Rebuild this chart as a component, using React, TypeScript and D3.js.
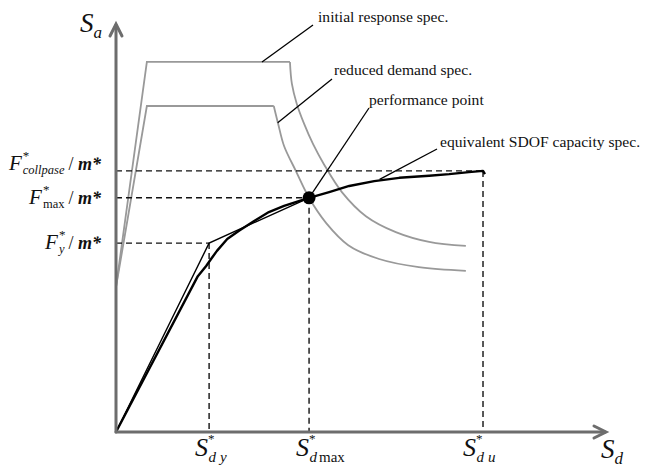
import React from "react";
import * as d3 from "d3";

// ---- data (abstract Sd / Sa units) ----
const capacitySd = [0, 16.7, 18.4, 19.4, 20.6, 22.7, 25.1, 28.2, 31.2, 34.3, 37.3, 39.4, 43.5, 47.6, 52.7, 57.8, 63.9, 68.0, 72.0, 74.9, 75.3];
const capacitySa = [0, 38.2, 40.7, 42.4, 44.4, 47.3, 49.3, 51.7, 53.9, 55.4, 56.6, 57.4, 58.8, 60.3, 61.5, 62.3, 62.8, 63.2, 63.7, 64.0, 63.2];

const bilinearSd = [0, 19.0, 39.4];
const bilinearSa = [0, 46.3, 57.4];

const initialSd = [0, 6.3, 35.5, 35.9, 36.9, 38.4, 40.2, 42.4, 46.1, 51.0, 57.1, 63.9, 71.4];
const initialSa = [35.5, 90.7, 90.7, 85.3, 80.4, 75.5, 70.6, 65.7, 58.8, 52.9, 49.0, 46.6, 45.6];

const reducedSd = [0, 6.3, 32.2, 33.1, 34.3, 36.7, 39.4, 42.9, 47.4, 53.7, 61.8, 71.4];
const reducedSa = [35.5, 79.9, 79.9, 75.5, 70.1, 64.0, 57.4, 51.2, 45.8, 42.4, 40.4, 39.5];

const dispLevels = [19.0, 39.4, 74.9]; // Sd*_y, Sd*_max, Sd*_u
const forceLevels = [46.3, 57.4, 64.0]; // Fy, Fmax, Fcollapse (per m*)
const perfSd = 39.4;
const perfSa = 57.4;

const annotationLabels = [
  "initial response spec.",
  "reduced demand spec.",
  "performance point",
  "equivalent SDOF capacity spec.",
];
const annotationTargetSd = [29.8, 33.0, 39.4, 53.8];
const annotationTargetSa = [90.7, 75.8, 57.4, 61.9];

// ---- layout ----
const W = 657;
const H = 470;
const x = d3.scaleLinear().domain([0, 100]).range([116, 606]);
const y = d3.scaleLinear().domain([0, 100]).range([432, 24]);

const serif = "'Liberation Serif', 'Times New Roman', serif";
const axisColor = "#6d6d6d";
const specColor = "#999999";

const annLayout = [
  { tx: 318, ty: 22, lx: 313, ly: 25 },
  { tx: 334, ty: 75, lx: 332, ly: 79 },
  { tx: 369, ty: 105, lx: 369, ly: 108 },
  { tx: 440, ty: 147, lx: 437, ly: 149 },
];

function pts(xs: number[], ys: number[]): [number, number][] {
  return xs.map((v, i) => [x(v), y(ys[i])] as [number, number]);
}

export default function App() {
  const linear = d3.line<[number, number]>().curve(d3.curveLinear);
  const smooth = d3.line<[number, number]>().curve(d3.curveCatmullRom.alpha(0.5));

  const initP = pts(initialSd, initialSa);
  const redP = pts(reducedSd, reducedSa);
  const capP = pts(capacitySd, capacitySa);
  const biP = pts(bilinearSd, bilinearSa);

  const ox = x(0);
  const oy = y(0);

  const fLabels = [
    { sub: "y", italicSub: true, dyBase: 6 },
    { sub: "max", italicSub: false, dyBase: 6 },
    { sub: "collpase", italicSub: true, dyBase: -1 },
  ];

  const sLabels = [
    { sub: "y", off: -14 },
    { sub: "max", off: -13 },
    { sub: "u", off: -20 },
  ];

  return (
    <svg width={W} height={H} style={{ position: "absolute", left: 0, top: 0, background: "#fff" }}>
      {/* demand spectra */}
      {[initP, redP].map((p, i) => (
        <g key={"spec" + i} fill="none" stroke={specColor} strokeWidth={1.8}>
          <path d={linear(p.slice(0, 3)) || ""} />
          <path d={smooth(p.slice(2)) || ""} />
        </g>
      ))}

      {/* dashed guides */}
      <g stroke="#111" strokeWidth={1.4} strokeDasharray="6,4" fill="none">
        {forceLevels.map((f, i) => (
          <line key={"h" + i} x1={ox} x2={x(dispLevels[i])} y1={y(f)} y2={y(f)} />
        ))}
        {dispLevels.map((d, i) => (
          <line key={"v" + i} x1={x(d)} x2={x(d)} y1={y(forceLevels[i])} y2={oy} />
        ))}
      </g>

      {/* capacity curves */}
      <path d={linear(biP) || ""} fill="none" stroke="#000" strokeWidth={1.4} />
      <path d={linear(capP) || ""} fill="none" stroke="#000" strokeWidth={2.4} strokeLinejoin="round" />

      {/* performance point */}
      <circle cx={x(perfSd)} cy={y(perfSa)} r={6.5} fill="#000" />

      {/* annotation leaders */}
      {annotationLabels.map((t, i) => (
        <g key={"ann" + i}>
          <line
            x1={annLayout[i].lx}
            y1={annLayout[i].ly}
            x2={x(annotationTargetSd[i])}
            y2={y(annotationTargetSa[i])}
            stroke="#000"
            strokeWidth={1.3}
          />
          <text x={annLayout[i].tx} y={annLayout[i].ty} fontFamily={serif} fontSize={15.6} fill="#111">
            {t}
          </text>
        </g>
      ))}

      {/* axes */}
      <g stroke={axisColor} strokeWidth={3} fill="none" strokeLinecap="round">
        <line x1={ox} y1={oy} x2={ox} y2={y(100) + 1} />
        <polyline points={`${ox - 6},${y(100) + 12} ${ox},${y(100)} ${ox + 6},${y(100) + 12}`} strokeLinejoin="miter" />
        <line x1={ox} y1={oy} x2={x(100) - 1} y2={oy} />
        <polyline points={`${x(100) - 12},${oy - 6} ${x(100)},${oy} ${x(100) - 12},${oy + 6}`} />
      </g>

      {/* axis titles */}
      <text x={80} y={32} fontFamily={serif} fill="#111">
        <tspan fontStyle="italic" fontSize={27}>S</tspan>
        <tspan fontStyle="italic" fontSize={17} dy={6}>a</tspan>
      </text>
      <text x={601} y={458} fontFamily={serif} fill="#111">
        <tspan fontStyle="italic" fontSize={27}>S</tspan>
        <tspan fontStyle="italic" fontSize={17} dy={6}>d</tspan>
      </text>

      {/* force labels */}
      {forceLevels.map((f, i) => (
        <text key={"fl" + i} x={101} y={y(f) + fLabels[i].dyBase} textAnchor="end" fontFamily={serif} fill="#111">
          <tspan fontStyle="italic" fontSize={21}>F</tspan>
          <tspan fontSize={13} dy={-10} dx={1}>*</tspan>
          <tspan fontStyle={fLabels[i].italicSub ? "italic" : "normal"} fontSize={12.5} dx={-6.5} dy={14}>
            {fLabels[i].sub}
          </tspan>
          <tspan fontSize={18} dx={4} dy={-4}>/ </tspan>
          <tspan fontStyle="italic" fontWeight="bold" fontSize={18}>m*</tspan>
        </text>
      ))}

      {/* displacement labels */}
      {dispLevels.map((d, i) => (
        <text key={"sl" + i} x={x(d) + sLabels[i].off} y={456} fontFamily={serif} fill="#111">
          <tspan fontStyle="italic" fontSize={26}>S</tspan>
          <tspan fontSize={13} dy={-13} dx={0}>*</tspan>
          <tspan fontStyle="italic" fontSize={15} dx={-6} dy={19}>d</tspan>
          <tspan fontStyle={i === 1 ? "normal" : "italic"} fontSize={15} dx={i === 1 ? 2 : 4}>
            {sLabels[i].sub}
          </tspan>
        </text>
      ))}
    </svg>
  );
}
